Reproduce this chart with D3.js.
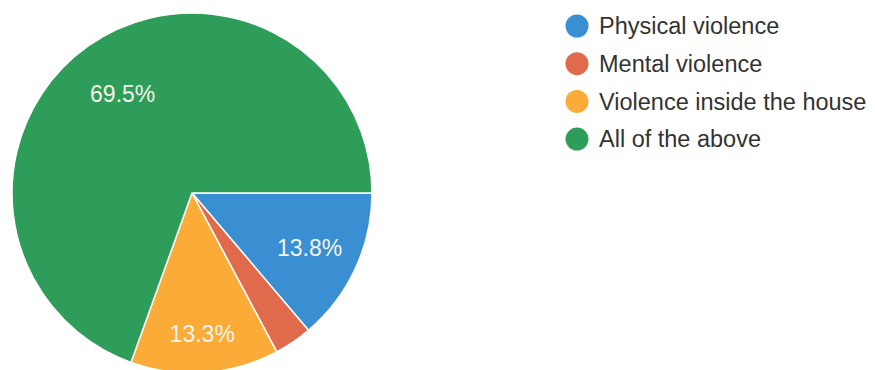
<!DOCTYPE html>
<html lang="en">
  <head>
    <meta charset="UTF-8" />
    <title>pie</title>
    <script src="https://cdn.jsdelivr.net/npm/d3@7"></script>
    <style>
      body { margin: 0; background: #fff; }
      text { font-family: Arial, "Liberation Sans", sans-serif; }
    </style>
  </head>
  <body>
    <svg width="875" height="370"></svg>
  </body>

  <script>
    var categories = ['Physical violence', 'Mental violence', 'Violence inside the house', 'All of the above'];
    var values = [13.8, 3.4, 13.3, 69.5];
    var colors = ['#3a8fd2', '#e06a4c', '#fbac38', '#2f9d5a'];

    var svg = d3.select('svg');
    var cx = 192, cy = 193, r = 180;

    var g = svg.append('g').attr('transform', 'translate(' + cx + ',' + cy + ')');

    // start at 3 o'clock, go clockwise
    var pie = d3.pie().sort(null)
      .startAngle(Math.PI / 2)
      .endAngle(Math.PI / 2 + 2 * Math.PI);
    var arcs = pie(values);

    var arc = d3.arc().innerRadius(0).outerRadius(r);

    g.selectAll('path').data(arcs).enter().append('path')
      .attr('d', arc)
      .attr('fill', function (d, i) { return colors[i]; })
      .attr('stroke', '#fff')
      .attr('stroke-width', 1.5);

    // label radius: start at 0.67r, push outward while the box is too close to a slice edge
    function labelPos(d, w, h) {
      var mid = (d.startAngle + d.endAngle) / 2;
      var pad = 24;
      for (var rho = r * 0.67; rho < r * 0.85; rho += 1) {
        var x = Math.sin(mid) * rho, y = -Math.cos(mid) * rho;
        var corners = [[x - w / 2, y - h / 2], [x + w / 2, y - h / 2], [x - w / 2, y + h / 2], [x + w / 2, y + h / 2]];
        var ok = corners.every(function (c) {
          return [d.startAngle, d.endAngle].every(function (a) {
            var dist = Math.abs(c[0] * -Math.cos(a) - c[1] * Math.sin(a));
            return dist >= pad || (d.endAngle - d.startAngle) > Math.PI;
          });
        });
        if (ok) return [x, y];
      }
      return [Math.sin(mid) * r * 0.85, -Math.cos(mid) * r * 0.85];
    }

    var labels = g.selectAll('text.lbl').data(arcs.filter(function (d) { return d.data > 5; }))
      .enter().append('text')
      .attr('class', 'lbl')
      .attr('text-anchor', 'middle')
      .attr('dy', '0.35em')
      .attr('fill', '#f4f4ea')
      .attr('font-size', 23)
      .text(function (d) { return d.data.toFixed(1) + '%'; });
    labels.attr('transform', function (d) {
      var bb = this.getBBox();
      return 'translate(' + labelPos(d, bb.width, 16) + ')';
    });

    // legend
    var legend = svg.append('g').attr('transform', 'translate(577,26)');
    var items = legend.selectAll('g').data(categories).enter().append('g')
      .attr('transform', function (d, i) { return 'translate(0,' + i * 37.7 + ')'; });
    items.append('circle')
      .attr('r', 11.5)
      .attr('fill', function (d, i) { return colors[i]; });
    items.append('text')
      .attr('x', 22)
      .attr('dy', '0.35em')
      .attr('font-size', 23.5)
      .attr('fill', '#333')
      .text(function (d) { return d; });
  </script>
</html>
